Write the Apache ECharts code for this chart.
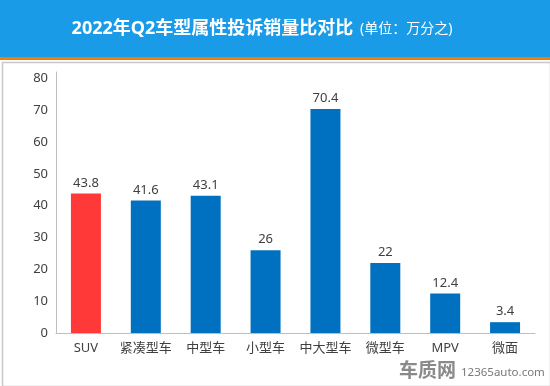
<!DOCTYPE html>
<html>
<head>
<meta charset="utf-8">
<script src="https://cdn.jsdelivr.net/npm/echarts@6/dist/echarts.min.js"></script>
<style>html,body{margin:0;padding:0;background:#fff;}#c{width:550px;height:386px;}</style>
</head>
<body>
<div id="c"></div>
<script>
const categories = ['SUV', '紧凑型车', '中型车', '小型车', '中大型车', '微型车', 'MPV', '微面'];
const values = [43.8, 41.6, 43.1, 26, 70.4, 22, 12.4, 3.4];
const barColors = ['#FF3838', '#0070C0', '#0070C0', '#0070C0', '#0070C0', '#0070C0', '#0070C0', '#0070C0'];
const titleMain = '2022年Q2车型属性投诉销量比对比';
const titleUnit = '(单位：万分之)';

const FONT = '"Noto Sans", "Noto Sans CJK SC", sans-serif';
const chart = echarts.init(document.getElementById('c'), null, {renderer: 'canvas'});
chart.setOption({
  animation: false,
  backgroundColor: '#fff',
  graphic: [
    {type: 'rect', left: 0, top: 0, shape: {width: 550, height: 57}, style: {fill: '#1A9BE8'}, z: 0},
    {type: 'rect', left: 0, top: 57, shape: {width: 550, height: 3}, style: {fill: '#F57C00'}, z: 0},
    {type: 'rect', left: 0, top: 60, shape: {width: 548, height: 324}, style: {fill: 'none', stroke: '#C8C8C8', lineWidth: 1.5}, z: 0},
    {type: 'text', x: 262, y: 29, z: 10,
      style: {
        text: '{a|' + titleMain + '}  {b|' + titleUnit + '}',
        align: 'center', verticalAlign: 'middle',
        rich: {
          a: {fontSize: 18, fontWeight: 'bold', fill: '#fff', fontFamily: FONT},
          b: {fontSize: 14, fill: '#fff', fontFamily: FONT}
        }
      }
    },
    {type: 'text', x: 456, y: 372, z: 10,
      style: {text: '车质网', fontSize: 19, fontWeight: 'bold', fill: '#8a8a8a', fontFamily: FONT, verticalAlign: 'middle', align: 'right'}},
    {type: 'text', x: 461, y: 373, z: 10,
      style: {text: '12365auto.com', fontSize: 11.5, fill: '#7a7a7a', fontFamily: FONT, verticalAlign: 'middle', align: 'left'}}
  ],
  grid: {left: 56, right: 15, top: 72, bottom: 53, containLabel: false},
  xAxis: {
    type: 'category',
    data: categories,
    axisLine: {lineStyle: {color: '#BFBFBF', width: 1}},
    axisTick: {show: false},
    axisLabel: {color: '#404040', fontSize: 13, margin: 9, fontFamily: FONT, interval: 0}
  },
  yAxis: {
    type: 'value',
    min: 0, max: 82, interval: 10,
    axisLine: {show: true, lineStyle: {color: '#BFBFBF', width: 1}},
    axisTick: {show: false},
    splitLine: {show: false},
    axisLabel: {color: '#404040', fontSize: 13, margin: 8, fontFamily: FONT, showMaxLabel: false}
  },
  series: [{
    type: 'bar',
    data: values.map((v, i) => ({value: v, itemStyle: {color: barColors[i]}})),
    barWidth: 30,
    label: {show: true, position: 'top', color: '#404040', fontSize: 13, distance: 4, fontFamily: FONT}
  }]
});
</script>
</body>
</html>
